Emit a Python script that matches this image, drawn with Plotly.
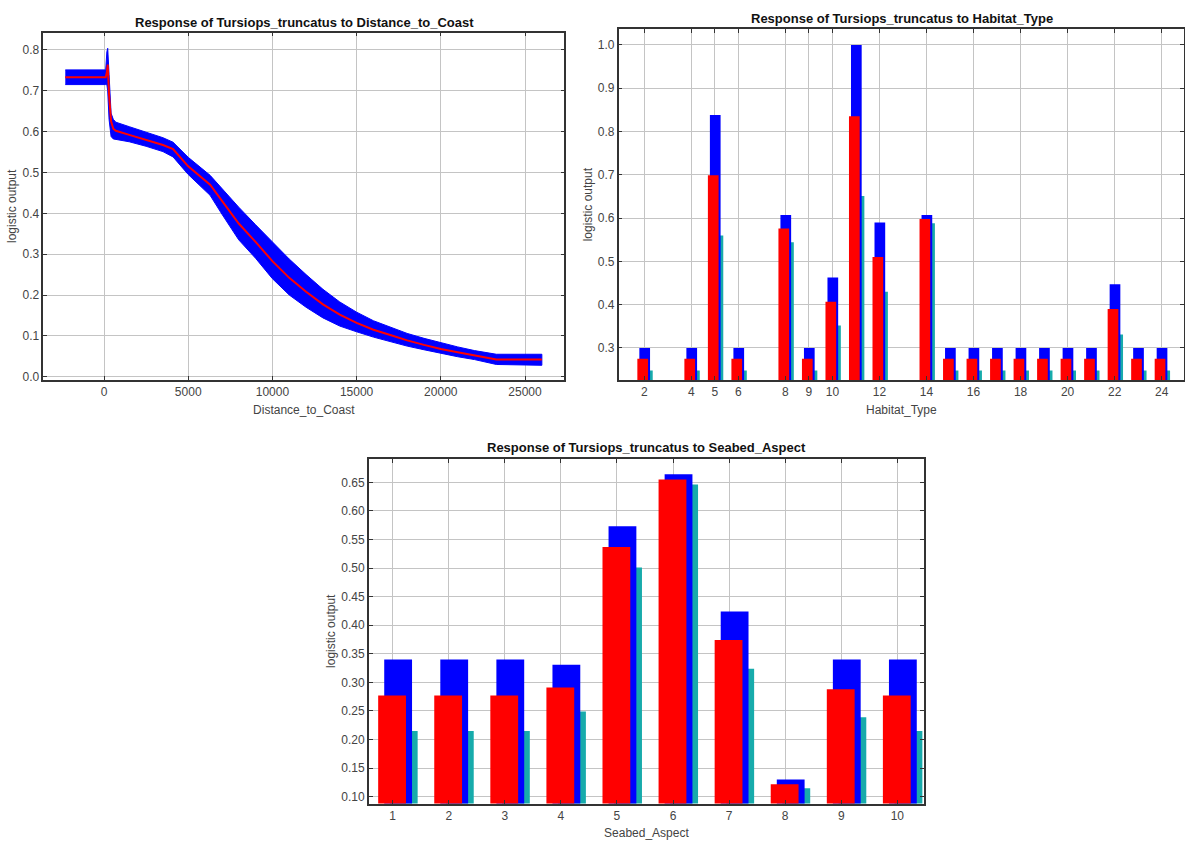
import plotly.graph_objects as go

# ---- Response curve: Distance_to_Coast ----
dist_x = [-2300, 100, 170, 220, 300, 420, 550, 700, 1500, 2500, 3500, 4100, 5000,
          6300, 7000, 8000, 9000, 10000, 11000, 12000, 13000, 14000, 15000, 16000,
          17000, 18000, 19000, 20000, 21000, 22000, 23300, 26000]
dist_mean = [0.733, 0.733, 0.745, 0.764, 0.69, 0.625, 0.607, 0.602, 0.592, 0.580,
             0.567, 0.557, 0.515, 0.470, 0.430, 0.375, 0.330, 0.283, 0.242, 0.208,
             0.177, 0.152, 0.132, 0.115, 0.102, 0.089, 0.078, 0.068, 0.060, 0.052,
             0.042, 0.042]
dist_upper = [0.751, 0.751, 0.795, 0.804, 0.74, 0.645, 0.630, 0.623, 0.612, 0.598,
              0.585, 0.574, 0.537, 0.493, 0.460, 0.415, 0.372, 0.330, 0.288, 0.250,
              0.214, 0.183, 0.158, 0.137, 0.121, 0.106, 0.094, 0.083, 0.073, 0.064,
              0.055, 0.055]
dist_lower = [0.715, 0.715, 0.715, 0.700, 0.63, 0.588, 0.582, 0.580, 0.575, 0.564,
              0.551, 0.538, 0.495, 0.444, 0.398, 0.335, 0.290, 0.240, 0.200, 0.170,
              0.144, 0.124, 0.110, 0.097, 0.086, 0.075, 0.066, 0.057, 0.049, 0.042,
              0.030, 0.028]
dist_ticks = [0, 5000, 10000, 15000, 20000, 25000]

# ---- Habitat_Type (categorical) ----
habitat = [2, 4, 5, 6, 8, 9, 10, 11, 12, 14, 15, 16, 17, 18, 19, 20, 21, 22, 23, 24]
hab_upper = [0.30, 0.30, 0.838, 0.30, 0.607, 0.30, 0.463, 1.000, 0.590, 0.607,
             0.30, 0.30, 0.30, 0.30, 0.30, 0.30, 0.30, 0.447, 0.30, 0.30]
hab_mean = [0.275, 0.275, 0.699, 0.275, 0.576, 0.275, 0.407, 0.835, 0.510, 0.598,
            0.275, 0.275, 0.275, 0.275, 0.275, 0.275, 0.275, 0.390, 0.275, 0.275]
hab_lower = [0.248, 0.248, 0.560, 0.248, 0.544, 0.248, 0.352, 0.651, 0.430, 0.588,
             0.248, 0.248, 0.248, 0.248, 0.248, 0.248, 0.248, 0.331, 0.248, 0.248]
hab_ticks = [2, 4, 5, 6, 8, 9, 10, 12, 14, 16, 18, 20, 22, 24]

# ---- Seabed_Aspect (categorical) ----
aspect = [1, 2, 3, 4, 5, 6, 7, 8, 9, 10]
asp_upper = [0.340, 0.340, 0.340, 0.331, 0.573, 0.664, 0.424, 0.130, 0.340, 0.340]
asp_mean = [0.277, 0.277, 0.277, 0.291, 0.537, 0.655, 0.374, 0.122, 0.288, 0.277]
asp_lower = [0.215, 0.215, 0.215, 0.249, 0.501, 0.646, 0.324, 0.115, 0.239, 0.215]

BLUE = "#0000ff"
RED = "#ff0000"
TEAL = "#17abab"
FONT = "Liberation Sans"
W, H = 1185, 843

fig = go.Figure()

# Panel 1: band (blue) + mean curve (red)
fig.add_trace(go.Scatter(
    x=dist_x + dist_x[::-1], y=dist_upper + dist_lower[::-1],
    fill="toself", fillcolor=BLUE, line=dict(color=BLUE, width=1),
    mode="lines", hoverinfo="skip", xaxis="x", yaxis="y"))
fig.add_trace(go.Scatter(
    x=dist_x, y=dist_mean, mode="lines",
    line=dict(color=RED, width=2), xaxis="x", yaxis="y"))


def add_bars(cats, lower, upper, mean, xa, ya, width, offsets):
    # drawn back to front: mean-sd, mean+sd, mean
    for vals, color, off in ((lower, TEAL, offsets[2]),
                             (upper, BLUE, offsets[1]),
                             (mean, RED, offsets[0])):
        fig.add_trace(go.Bar(
            x=cats, y=vals, width=width, offset=off,
            marker=dict(color=color, line=dict(width=0)),
            xaxis=xa, yaxis=ya))


add_bars(habitat, hab_lower, hab_upper, hab_mean, "x2", "y2",
         0.455, (-0.297, -0.212, -0.098))
add_bars(aspect, asp_lower, asp_upper, asp_mean, "x3", "y3",
         0.496, (-0.258, -0.150, -0.050))


def px_x(a, b):
    return [a / W, b / W]


def px_y(top, bottom):
    return [1 - bottom / H, 1 - top / H]


axis_common = dict(
    showline=True, mirror="ticks", linecolor="#333333", linewidth=1.5,
    showgrid=True, gridcolor="#c4c4c4", gridwidth=1,
    ticks="inside", ticklen=4, tickcolor="#333333",
    tickfont=dict(family=FONT, size=12, color="#444444"),
    zeroline=False, automargin=False,
)
title_font = dict(family=FONT, size=12, color="#444444")

fig.update_layout(
    width=W, height=H,
    margin=dict(l=0, r=0, t=0, b=0),
    paper_bgcolor="white", plot_bgcolor="white",
    showlegend=False, barmode="overlay",
    xaxis=dict(axis_common, domain=px_x(43.3, 564.3), anchor="y",
               range=[-3605, 27333], tickvals=dist_ticks, tickformat="d",
               title=dict(text="Distance_to_Coast", font=title_font, standoff=7)),
    yaxis=dict(axis_common, domain=px_y(32.7, 380), anchor="x",
               range=[-0.008, 0.842], dtick=0.1, tick0=0, tickformat=".1f",
               title=dict(text="logistic output", font=title_font, standoff=3)),
    xaxis2=dict(axis_common, domain=px_x(618.7, 1184), anchor="y2",
                range=[0.91, 24.95], tickvals=hab_ticks,
                title=dict(text="Habitat_Type", font=title_font, standoff=7)),
    yaxis2=dict(axis_common, domain=px_y(29.3, 380), anchor="x2",
                range=[0.226, 1.036], dtick=0.1, tick0=0, tickformat=".1f",
                title=dict(text="logistic output", font=title_font, standoff=3)),
    xaxis3=dict(axis_common, domain=px_x(368.8, 924), anchor="y3",
                range=[0.575, 10.475], tickvals=aspect,
                title=dict(text="Seabed_Aspect", font=title_font, standoff=7)),
    yaxis3=dict(axis_common, domain=px_y(458.9, 803.6), anchor="x3",
                range=[0.088, 0.691], dtick=0.05, tick0=0, tickformat=".2f",
                title=dict(text="logistic output", font=title_font, standoff=3)),
)

titles = [
    ("Response of Tursiops_truncatus to Distance_to_Coast", 304, 22),
    ("Response of Tursiops_truncatus to Habitat_Type", 902, 18),
    ("Response of Tursiops_truncatus to Seabed_Aspect", 646, 448),
]
for text, cx, cy in titles:
    fig.add_annotation(
        text=f"<b>{text}</b>", x=cx / W, y=1 - cy / H, xref="paper", yref="paper",
        xanchor="center", yanchor="middle", showarrow=False,
        font=dict(family=FONT, size=13, color="#111111"))

fig.write_html("out.html")
